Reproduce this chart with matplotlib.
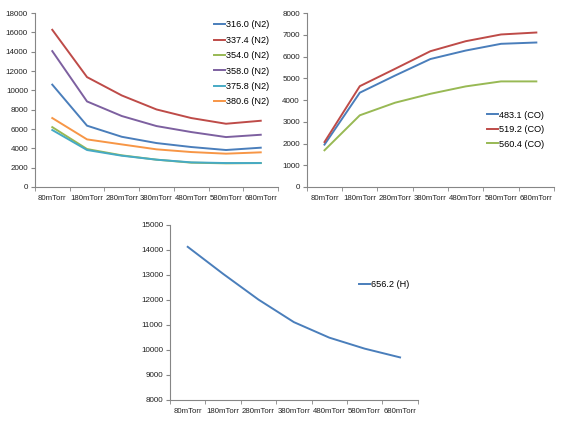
import numpy as np
import matplotlib
matplotlib.use("Agg")
import matplotlib.pyplot as plt

plt.rcParams["font.family"] = ["Liberation Sans", "DejaVu Sans"]

CATS = ["80mTorr", "180mTorr", "280mTorr", "380mTorr", "480mTorr", "580mTorr", "680mTorr"]

N2_LABELS = ["316.0 (N2)", "337.4 (N2)", "354.0 (N2)", "358.0 (N2)", "375.8 (N2)", "380.6 (N2)"]
N2_316 = [10600, 6350, 5200, 4550, 4140, 3830, 4070]
N2_337 = [16280, 11380, 9480, 8030, 7140, 6550, 6860]
N2_354 = [6200, 3930, 3280, 2830, 2520, 2450, 2480]
N2_358 = [14070, 8860, 7350, 6310, 5690, 5170, 5410]
N2_375 = [5900, 3830, 3240, 2830, 2550, 2480, 2480]
N2_380 = [7140, 4930, 4410, 3900, 3620, 3450, 3590]

CO_LABELS = ["483.1 (CO)", "519.2 (CO)", "560.4 (CO)"]
CO_483 = [1950, 4340, 5130, 5890, 6280, 6590, 6650]
CO_519 = [2070, 4640, 5440, 6250, 6710, 7020, 7110]
CO_560 = [1690, 3300, 3880, 4290, 4630, 4860, 4860]

H_LABEL = "656.2 (H)"
H_656 = [14120, 13040, 12010, 11110, 10490, 10050, 9700]

BLUE, RED, GREEN, PURPLE, CYAN, ORANGE = "#4A7EBB", "#BE4B48", "#98B954", "#7D60A0", "#46AAC5", "#F79646"
AXC = "#868686"
LEG = dict(frameon=False, fontsize=6.6, handlelength=1.2, handletextpad=0.1)


def style(ax):
    x = np.arange(len(CATS))
    ax.set_xlim(-0.5, len(CATS) - 0.5)
    ax.set_xticks(x)
    ax.set_xticklabels(CATS, fontsize=5.6, color="#222222")
    ax.set_xticks(np.arange(-0.5, len(CATS)), minor=True)
    ax.tick_params(axis="x", which="major", length=0, pad=6)
    ax.tick_params(axis="x", which="minor", length=3, color=AXC, direction="out")
    ax.tick_params(axis="y", length=3, color=AXC, labelsize=5.8, labelcolor="#222222", pad=2)
    for s in ["top", "right"]:
        ax.spines[s].set_visible(False)
    for s in ["left", "bottom"]:
        ax.spines[s].set_color(AXC)
        ax.spines[s].set_linewidth(0.8)


fig = plt.figure(figsize=(5.63, 4.25), dpi=100)
x = np.arange(len(CATS))

# N2 panel
ax1 = fig.add_axes([0.062, 0.56, 0.432, 0.409])
for y, c, lab in zip([N2_316, N2_337, N2_354, N2_358, N2_375, N2_380],
                     [BLUE, RED, GREEN, PURPLE, CYAN, ORANGE], N2_LABELS):
    ax1.plot(x, y, color=c, lw=1.4, label=lab)
ax1.set_ylim(0, 18000)
ax1.set_yticks(np.arange(0, 18001, 2000))
style(ax1)
ax1.legend(loc="upper right", bbox_to_anchor=(0.985, 0.99), labelspacing=0.7, borderaxespad=0.2, **LEG)

# CO panel
ax2 = fig.add_axes([0.545, 0.56, 0.439, 0.409])
for y, c, lab in zip([CO_483, CO_519, CO_560], [BLUE, RED, GREEN], CO_LABELS):
    ax2.plot(x, y, color=c, lw=1.4, label=lab)
ax2.set_ylim(0, 8000)
ax2.set_yticks(np.arange(0, 8001, 1000))
style(ax2)
ax2.legend(loc="center right", bbox_to_anchor=(0.995, 0.33), labelspacing=0.6, **LEG)

# H panel
ax3 = fig.add_axes([0.302, 0.059, 0.44, 0.412])
ax3.plot(x, H_656, color=BLUE, lw=1.4, label=H_LABEL)
ax3.set_ylim(8000, 15000)
ax3.set_yticks(np.arange(8000, 15001, 1000))
style(ax3)
ax3.legend(loc="center right", bbox_to_anchor=(1.0, 0.66), **LEG)

fig.savefig("out.png", dpi=100)
